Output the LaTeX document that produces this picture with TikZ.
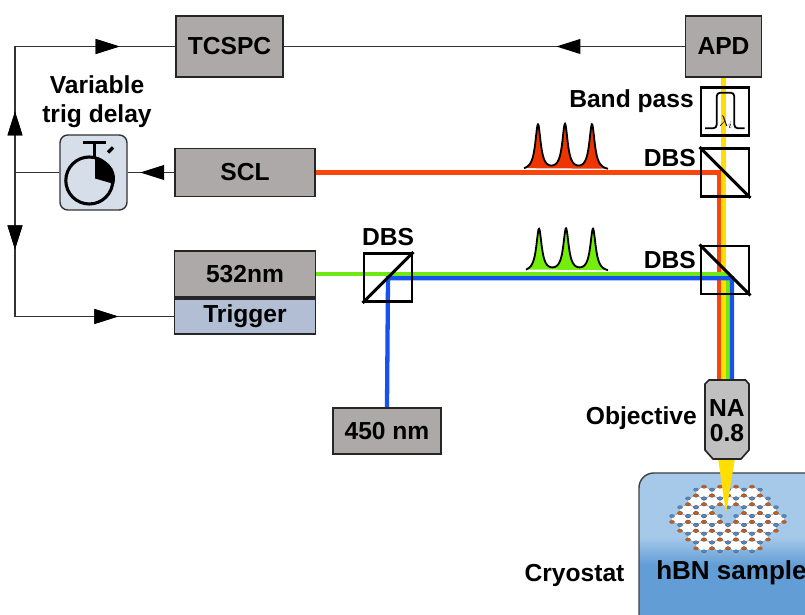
\documentclass[tikz,border=0pt]{standalone}
\usepackage{fontspec}
\setmainfont{Liberation Sans}
\usetikzlibrary{arrows.meta,decorations.markings}

% colours of the setup
\definecolor{boxgray}{RGB}{173,169,169}
\definecolor{trigblue}{RGB}{178,190,211}
\definecolor{watchblue}{RGB}{214,222,234}
\definecolor{objgray}{RGB}{192,192,192}
\definecolor{beamred}{RGB}{248,70,12}
\definecolor{beamyellow}{RGB}{255,222,0}
\definecolor{beamgreen}{RGB}{112,232,20}
\definecolor{beamblue}{RGB}{22,82,238}
\definecolor{pulsered}{RGB}{238,52,0}
\definecolor{pulsegreen}{RGB}{118,238,12}
\definecolor{cryolight}{RGB}{166,201,234}
\definecolor{cryodark}{RGB}{98,157,214}
\definecolor{boron}{RGB}{212,88,18}
\definecolor{nitrogen}{RGB}{68,140,212}

\newcommand\pxl{0.025cm}
\newcommand\labelfont{\fontsize{17.5}{20.6}\selectfont\bfseries}

\pgfdeclareverticalshading{cryoshade}{100bp}{color(0bp)=(cryodark); color(49bp)=(cryodark); color(57bp)=(cryolight); color(100bp)=(cryolight)}

\begin{document}
\begin{tikzpicture}[
x=0.025cm, y=-0.025cm,
every node/.style={font=\labelfont, inner sep=0pt},
device/.style 2 args={draw=black!85, line width=1.4pt, fill=boxgray,
  minimum width={#1*\pxl}, minimum height={#2*\pxl}},
optic/.style={draw=black, line width=2.1pt, minimum size={48*\pxl}},
wire/.style={draw=black!80, line width=0.9pt},
arrowat/.style={decoration={markings,
  mark=at position #1 with {\arrow{Triangle[length=17pt,width=10.5pt,color=black]}}},
  postaction={decorate}},
beam/.style={line width=3.05pt},
pulse/.style={draw=black, line width=1.3pt},
hexcell/.style={draw=black!40, fill=white, line width=0.35pt},
]
\useasboundingbox (0,0) rectangle (805,615);

% electronics and sources
\node[device={107}{61}] (tcspc) at (229.5,46.5) {TCSPC};
\node[device={76}{61}] (apd) at (723.5,46.5) {APD};
\node[device={140}{48}] (scl) at (245,172.5) {SCL};
\node[device={141}{46}] (laser) at (245,274) {532nm};
\node[device={141}{35}, fill=trigblue, anchor=north] (trigger) at (laser.south) {Trigger};
\node[device={108}{46}] (laser450) at (387,431) {450 nm};
\node[draw=black!80, line width=1pt, fill=watchblue, rounded corners=5.5pt,
  minimum width={67*\pxl}, minimum height={75*\pxl}] (watch) at (93.5,172.5) {};
\node[align=center] (delay) at (97,102) {Variable\\trig delay};

% beams
\draw[beam, beamred] (scl.east) -- (719.2,172.5) -- (719.2,382);
\draw[beam, beamyellow] (apd.south) -- (723.5,382);
\draw[beam, beamgreen] (laser.east) -- (727.8,274) -- (727.8,382);
\draw[beam, beamblue] (laser450.north) -- (388,278.3) -- (732.1,278.3) -- (732.1,382);

% pulse trains
\draw[pulse, fill=pulsered] plot[domain=524:608, samples=220]
  (\x, {171-46*(1/(1+((\x-538)/3.3)^2)+1/(1+((\x-565)/3.3)^2)+1/(1+((\x-592)/3.3)^2))});
\draw[pulse, fill=pulsegreen] plot[domain=526:608, samples=220]
  (\x, {272.5-43*(1/(1+((\x-539)/3.3)^2)+1/(1+((\x-566)/3.3)^2)+1/(1+((\x-593)/3.3)^2))});

% optics
\node[optic] (dbsA) at (388,277.5) {};
\node[optic] (dbsB) at (725,172.5) {};
\node[optic] (dbsC) at (725,270) {};
\node[optic] (bandpass) at (725,111.5) {};
\draw[line width=2.1pt] (dbsA.south west) -- (dbsA.north east);
\draw[line width=2.1pt] (dbsB.north west) -- (dbsB.south east);
\draw[line width=2.1pt] (dbsC.north west) -- (dbsC.south east);
\draw[line width=1.3pt, rounded corners=2.5pt] (705,128.3) -- (716.7,128.3) -- (716.7,92.7)
  -- (734.3,92.7) -- (734.3,128.3) -- (744.5,128.3);
\node[font=\fontsize{10.5}{12}\selectfont] (lambda) at (726,122) {$\lambda_i$};

\node[anchor=east] (bplabel) at (694,101) {Band pass};
\node[anchor=east] (dbsBlabel) at (696,158) {DBS};
\node[anchor=east] (dbsClabel) at (696,260.5) {DBS};
\node (dbsAlabel) at (388,237) {DBS};

% trigger and timing lines
\coordinate (split) at (15,172.5);
\draw[wire, arrowat=0.32] (apd.west) -- (tcspc.east);
\draw[wire, arrowat=0.73] (scl.west) -- (watch.east);
\draw[wire] (watch.west) -- (split);
\draw[wire, arrowat=0.213, arrowat=0.806] (split) |- (tcspc.west);
\draw[wire, arrowat=0.254, arrowat=0.817] (split) |- (trigger.west);

% stopwatch icon
\begin{scope}[shift={(watch.center)}]
  \draw[line width=2.2pt] (-4.2,8) circle[radius=23.5];
  \draw[line width=2.4pt] (-10.5,-30) -- (12.5,-30);
  \draw[line width=2.4pt] (1,-30) -- (1,-15.5);
  \draw[line width=2.4pt] (14.5,-20) -- (19.5,-25);
  \fill (1.5,6) -- ++(0,-20) arc[start angle=-90, end angle=16, radius=20] -- cycle;
\end{scope}

% cryostat with the hBN flake
\path[shading=cryoshade, draw=black!75, line width=1pt, rounded corners=10.5pt]
  (639,473) rectangle (840,650);
\foreach \i in {-3,...,3}
  \foreach \j in {-3,...,3} {
    \pgfmathtruncatemacro\hexrim{max(abs(\i),abs(\j),abs(\i+\j))}
    \pgfmathtruncatemacro\hexgap{(\i==0&&\j==0)||(\i==0&&\j==-1)||(\i==1&&\j==-1)}
    \ifnum\hexrim<4 \ifnum\hexgap=0
      \draw[hexcell, shift={({728+16*(\i+0.5*\j)},{519+8.8*\j})}, yscale=0.64]
        (30:9.24) -- (90:9.24) -- (150:9.24) -- (210:9.24) -- (270:9.24) -- (330:9.24) -- cycle;
    \fi\fi
  }
\foreach \i in {-3,...,3}
  \foreach \j in {-3,...,3} {
    \pgfmathtruncatemacro\hexrim{max(abs(\i),abs(\j),abs(\i+\j))}
    \pgfmathtruncatemacro\hexgap{(\i==0&&\j==0)||(\i==0&&\j==-1)||(\i==1&&\j==-1)}
    \ifnum\hexrim<4 \ifnum\hexgap=0
      \begin{scope}[shift={({728+16*(\i+0.5*\j)},{519+8.8*\j})}, yscale=0.64]
        \foreach \a in {30,150,270}
          \filldraw[fill=boron, draw=black!60, line width=0.25pt] (\a:9.24) circle[radius=2.5];
        \foreach \a in {90,210,330}
          \filldraw[fill=nitrogen, draw=black!60, line width=0.25pt] (\a:9.24) circle[radius=2.5];
      \end{scope}
    \fi\fi
  }
\node[anchor=west, font=\fontsize{18.5}{22}\selectfont\bfseries] (sample) at (656,573) {hBN sample};
\node (cryo) at (574.5,575) {Cryostat};

% objective and focused beam
\fill[beamyellow] (718,458) -- (735,458) -- (726,513) -- cycle;
\draw[fill=objgray, line width=1.2pt, draw=black!85] (709,380) -- (745.5,380) -- (749,384)
  -- (749,450) -- (741,459) -- (713,459) -- (705,450) -- (705,384) -- cycle;
\node (na) at (727,408) {NA};
\node (naval) at (727,433.5) {0.8};
\node[anchor=east] (objlabel) at (697,418) {Objective};
\end{tikzpicture}
\end{document}
